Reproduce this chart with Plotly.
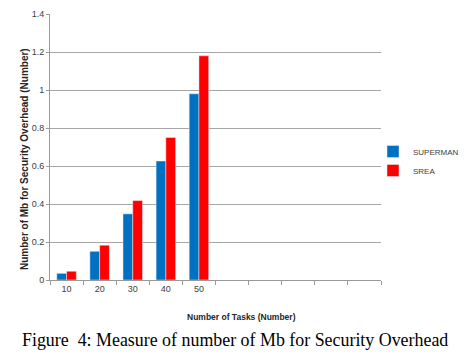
import plotly.graph_objects as go

categories = ["10", "20", "30", "40", "50", "60", "70", "80", "90", "100"]
tick_labels = ["10", "20", "30", "40", "50", "", "", "", "", ""]
superman = [0.035, 0.151, 0.348, 0.626, 0.98, None, None, None, None, None]
srea = [0.046, 0.183, 0.418, 0.75, 1.18, None, None, None, None, None]
y_ticks = [0, 0.2, 0.4, 0.6, 0.8, 1, 1.2, 1.4]
y_tick_labels = ["0", "0.2", "0.4", "0.6", "0.8", "1", "1.2", "1.4"]

L, R, T, B = 50, 91, 14, 75
PW, PH = 472 - L - R, 355 - T - B

def px_x(x):
    return (x - L) / PW

def px_y(y):
    return (355 - B - y) / PH

fig = go.Figure()
fig.add_trace(go.Bar(x=categories, y=superman, name="SUPERMAN", marker_color="#0070C0"))
fig.add_trace(go.Bar(x=categories, y=srea, name="SREA", marker_color="#FF0000"))

fig.update_layout(
    width=472, height=355,
    margin=dict(l=L, r=R, t=T, b=B, autoexpand=False),
    paper_bgcolor="white", plot_bgcolor="white",
    barmode="group", bargap=0.41, bargroupgap=0,
    font=dict(family="Liberation Sans, Arial", size=9, color="#404040"),
    showlegend=True,
    legend=dict(x=px_x(373), y=px_y(137), xanchor="left", yanchor="top",
                font=dict(size=8, color="#404040"), itemwidth=30,
                tracegroupgap=2, bgcolor="rgba(0,0,0,0)"),
    xaxis=dict(type="category", categoryorder="array", categoryarray=categories,
               tickvals=categories, ticktext=tick_labels, tickson="boundaries",
               ticks="outside", ticklen=4, tickcolor="#999999",
               showline=True, linecolor="#999999", showgrid=False,
               range=[-0.5, 9.5], tickfont=dict(size=9)),
    yaxis=dict(range=[0, 1.4], tickvals=y_ticks, ticktext=y_tick_labels,
               showgrid=True, gridcolor="#A6A6A6", gridwidth=1,
               showline=True, linecolor="#999999", ticks="outside", ticklen=3,
               tickcolor="#999999", zeroline=False, tickfont=dict(size=9)),
    annotations=[
        dict(text="<b>Number of Mb for Security Overhead (Number)</b>", textangle=-90,
             xref="paper", yref="paper", x=px_x(24), y=px_y(159),
             xanchor="center", yanchor="middle",
             showarrow=False, font=dict(size=10, color="#262626")),
        dict(text="<b>Number of Tasks (Number)</b>",
             xref="paper", yref="paper", x=px_x(241), y=px_y(317),
             xanchor="center", yanchor="middle", showarrow=False,
             font=dict(size=8.5, color="#262626")),
        dict(text="Figure  4: Measure of number of Mb for Security Overhead",
             xref="paper", yref="paper", x=px_x(234.5), y=px_y(340),
             xanchor="center", yanchor="middle", showarrow=False,
             font=dict(family="Liberation Serif, Times New Roman", size=17.9, color="black")),
    ],
)

fig.write_html("out.html", config={"displayModeBar": False},
               post_script="document.body.style.margin='0';")
